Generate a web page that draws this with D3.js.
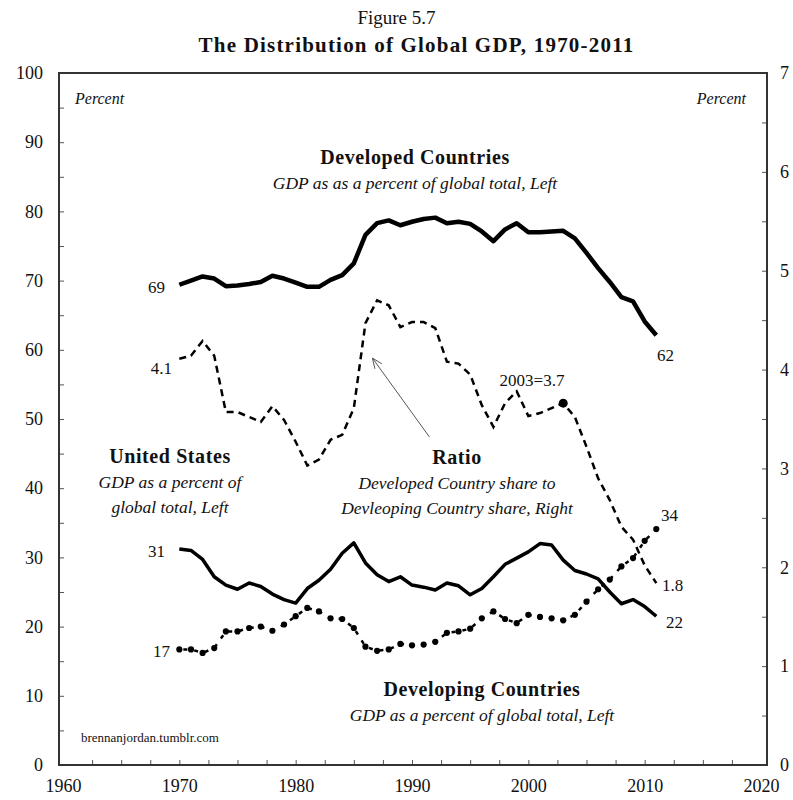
<!DOCTYPE html>
<html>
<head>
<meta charset="utf-8">
<script src="https://cdn.jsdelivr.net/npm/d3@7"></script>
<style>
  body { margin: 0; background: #fff; }
  svg text { font-family: "Liberation Serif", "DejaVu Serif", serif; fill: #111; }
</style>
</head>
<body>
<div id="chart"></div>
<script>
// years 1970-2011
const years = [1970,1971,1972,1973,1974,1975,1976,1977,1978,1979,
               1980,1981,1982,1983,1984,1985,1986,1987,1988,1989,
               1990,1991,1992,1993,1994,1995,1996,1997,1998,1999,
               2000,2001,2002,2003,2004,2005,2006,2007,2008,2009,
               2010,2011];

// percent of global GDP (left axis)
const developed = [69.4,70.0,70.6,70.3,69.2,69.3,69.5,69.8,70.7,70.3,
                   69.7,69.1,69.1,70.1,70.8,72.5,76.6,78.3,78.7,78.0,
                   78.5,78.9,79.1,78.3,78.5,78.2,77.1,75.7,77.4,78.3,
                   77.0,77.0,77.1,77.2,76.1,74.0,71.8,69.8,67.6,67.0,
                   64.1,62.1];
const unitedStates = [31.2,31.0,29.7,27.2,26.0,25.4,26.3,25.8,24.7,23.9,
                      23.4,25.5,26.7,28.3,30.6,32.1,29.2,27.5,26.5,27.2,
                      26.0,25.7,25.3,26.3,25.9,24.6,25.5,27.2,29.0,29.9,
                      30.8,32.0,31.8,29.6,28.1,27.6,26.9,25.0,23.3,23.9,
                      22.9,21.5];
const developing = [16.7,16.7,16.2,16.9,19.3,19.3,19.8,20.0,19.4,20.3,
                    21.5,22.7,22.2,21.2,21.1,19.8,17.1,16.5,16.7,17.5,
                    17.3,17.4,17.8,19.1,19.3,19.7,21.2,22.2,21.1,20.5,
                    21.7,21.4,21.2,20.9,21.7,23.6,25.4,26.8,28.7,29.9,
                    32.4,34.1];
// developed share / developing share (right axis)
const ratio = [4.11,4.14,4.29,4.14,3.57,3.57,3.52,3.47,3.63,3.49,
               3.27,3.03,3.09,3.29,3.34,3.61,4.47,4.70,4.65,4.43,
               4.48,4.48,4.42,4.08,4.06,3.95,3.64,3.42,3.66,3.78,
               3.53,3.56,3.61,3.66,3.52,3.22,2.90,2.68,2.41,2.28,
               2.02,1.84];

const leftTicks = [0,10,20,30,40,50,60,70,80,90,100];
const rightTicks = [0,1,2,3,4,5,6,7];
const xTicks = [1960,1970,1980,1990,2000,2010,2020];

const W = 793, H = 800;
const frame = {left: 59, right: 767, top: 73, bottom: 765};

const svg = d3.select("#chart").append("svg")
    .attr("width", W)
    .attr("height", H);

const x = d3.scaleLinear().domain([1960, 2020]).range([63, 761]);
const yL = d3.scaleLinear().domain([0, 100]).range([frame.bottom, frame.top]);
const yR = d3.scaleLinear().domain([0, 7]).range([frame.bottom, frame.top]);

// titles
svg.append("text").attr("x", W / 2).attr("y", 24)
    .attr("text-anchor", "middle").style("font-size", "19px")
    .text("Figure 5.7");
svg.append("text").attr("x", W / 2 + 20).attr("y", 52)
    .attr("text-anchor", "middle").style("font-size", "21px").style("font-weight", "bold")
    .style("letter-spacing", "1.2px")
    .text("The Distribution of Global GDP, 1970-2011");

// minor tick marks, pointing inward
svg.append("g")
    .attr("transform", `translate(${frame.left},0)`)
    .call(d3.axisRight(yL).tickValues(d3.range(5, 100, 5)).tickSize(5).tickFormat(""))
    .call(g => g.select(".domain").remove())
    .selectAll("line").attr("stroke", "#555");
svg.append("g")
    .attr("transform", `translate(${frame.right},0)`)
    .call(d3.axisLeft(yR).tickValues(d3.range(0.5, 7, 0.5)).tickSize(5).tickFormat(""))
    .call(g => g.select(".domain").remove())
    .selectAll("line").attr("stroke", "#555");
svg.append("g")
    .attr("transform", `translate(0,${frame.bottom})`)
    .call(d3.axisTop(x).tickValues(d3.range(1962.5, 2020, 2.5)).tickSize(5).tickFormat(""))
    .call(g => g.select(".domain").remove())
    .selectAll("line").attr("stroke", "#555");

// tick labels
svg.append("g")
    .attr("transform", `translate(${frame.left},0)`)
    .call(d3.axisLeft(yL).tickValues(leftTicks).tickSize(0).tickPadding(16).tickFormat(d3.format("d")))
    .call(g => g.select(".domain").remove())
    .selectAll("text").style("font-size", "18px");
svg.append("g")
    .attr("transform", `translate(${frame.right},0)`)
    .call(d3.axisRight(yR).tickValues(rightTicks).tickSize(0).tickPadding(13).tickFormat(d3.format("d")))
    .call(g => g.select(".domain").remove())
    .selectAll("text").style("font-size", "18px");
svg.append("g")
    .attr("transform", `translate(0,${frame.bottom})`)
    .call(d3.axisBottom(x).tickValues(xTicks).tickSize(0).tickPadding(14).tickFormat(d3.format("d")))
    .call(g => g.select(".domain").remove())
    .selectAll("text").style("font-size", "18px");

svg.selectAll(".tick text").attr("fill", "#111").style("font-family", "Liberation Serif, serif");

// plot frame
svg.append("rect")
    .attr("x", frame.left).attr("y", frame.top)
    .attr("width", frame.right - frame.left)
    .attr("height", frame.bottom - frame.top)
    .attr("fill", "none").attr("stroke", "#333").attr("stroke-width", 2);

const lineL = vals => d3.line().x((d, i) => x(years[i])).y(d => yL(d))(vals);
const lineR = vals => d3.line().x((d, i) => x(years[i])).y(d => yR(d))(vals);

// developed countries
svg.append("path").attr("d", lineL(developed))
    .attr("fill", "none").attr("stroke", "#000").attr("stroke-width", 4.5)
    .attr("stroke-linejoin", "round");

// united states
svg.append("path").attr("d", lineL(unitedStates))
    .attr("fill", "none").attr("stroke", "#000").attr("stroke-width", 3.5)
    .attr("stroke-linejoin", "round");

// ratio, right axis
svg.append("path").attr("d", lineR(ratio))
    .attr("fill", "none").attr("stroke", "#000").attr("stroke-width", 2.5)
    .attr("stroke-dasharray", "7,5");

// developing countries, dash-dot
svg.append("path").attr("d", lineL(developing))
    .attr("fill", "none").attr("stroke", "#000").attr("stroke-width", 2.5)
    .attr("stroke-dasharray", "4,7").attr("stroke-dashoffset", -4);
svg.selectAll("circle.dev")
    .data(developing)
    .enter().append("circle")
    .attr("class", "dev")
    .attr("cx", (d, i) => x(years[i]))
    .attr("cy", d => yL(d))
    .attr("r", 3.1)
    .attr("fill", "#000");

// 2003 ratio marker
const i2003 = years.indexOf(2003);
svg.append("circle")
    .attr("cx", x(2003)).attr("cy", yR(ratio[i2003]))
    .attr("r", 4.5).attr("fill", "#000");

// annotation arrow for the ratio
const arrowFrom = [1991.5, 47.4], arrowTo = [1986.6, 58.8];
svg.append("line")
    .attr("x1", x(arrowFrom[0])).attr("y1", yL(arrowFrom[1]))
    .attr("x2", x(arrowTo[0])).attr("y2", yL(arrowTo[1]))
    .attr("stroke", "#555").attr("stroke-width", 1);
{
  const ax = x(arrowTo[0]), ay = yL(arrowTo[1]);
  const ang = Math.atan2(yL(arrowFrom[1]) - ay, x(arrowFrom[0]) - ax);
  const L = 11, spread = 0.4;
  svg.append("path")
    .attr("d", `M${ax + L * Math.cos(ang - spread)},${ay + L * Math.sin(ang - spread)}L${ax},${ay}L${ax + L * Math.cos(ang + spread)},${ay + L * Math.sin(ang + spread)}`)
    .attr("fill", "none").attr("stroke", "#555").attr("stroke-width", 1);
}

// end labels
const endLabels = [
  {t: "69", x: 165, y: 293, a: "end"},
  {t: "4.1", x: 172, y: 374, a: "end"},
  {t: "31", x: 165, y: 557, a: "end"},
  {t: "17", x: 170, y: 657, a: "end"},
  {t: "62", x: 657, y: 361, a: "start"},
  {t: "2003=3.7", x: 532, y: 386, a: "middle"},
  {t: "34", x: 661, y: 521, a: "start"},
  {t: "1.8", x: 662, y: 591, a: "start"},
  {t: "22", x: 666, y: 628, a: "start"}
];
svg.selectAll("text.end")
    .data(endLabels)
    .enter().append("text")
    .attr("class", "end")
    .attr("x", d => d.x).attr("y", d => d.y)
    .attr("text-anchor", d => d.a)
    .style("font-size", "17px")
    .text(d => d.t);

// "Percent" axis captions
svg.append("text").attr("x", 75).attr("y", 104)
    .style("font-size", "16px").style("font-style", "italic").text("Percent");
svg.append("text").attr("x", 746).attr("y", 104).attr("text-anchor", "end")
    .style("font-size", "16px").style("font-style", "italic").text("Percent");

// series captions
function caption(cx, cy, head, lines) {
  svg.append("text").attr("x", cx).attr("y", cy)
      .attr("text-anchor", "middle")
      .style("font-size", "20px").style("font-weight", "bold")
      .style("letter-spacing", "0.6px")
      .text(head);
  lines.forEach((l, k) => {
    svg.append("text").attr("x", cx).attr("y", cy + 25 + k * 25)
        .attr("text-anchor", "middle")
        .style("font-size", "17.5px").style("font-style", "italic")
        .text(l);
  });
}
caption(415, 164, "Developed Countries", ["GDP as as a percent of global total, Left"]);
caption(170, 463, "United States", ["GDP as a percent of", "global total, Left"]);
caption(457, 464, "Ratio", ["Developed Country share to", "Devleoping Country share, Right"]);
caption(482, 696, "Developing Countries", ["GDP as a percent of global total, Left"]);

svg.append("text").attr("x", 81).attr("y", 742)
    .style("font-size", "13px").text("brennanjordan.tumblr.com");
</script>
</body>
</html>
